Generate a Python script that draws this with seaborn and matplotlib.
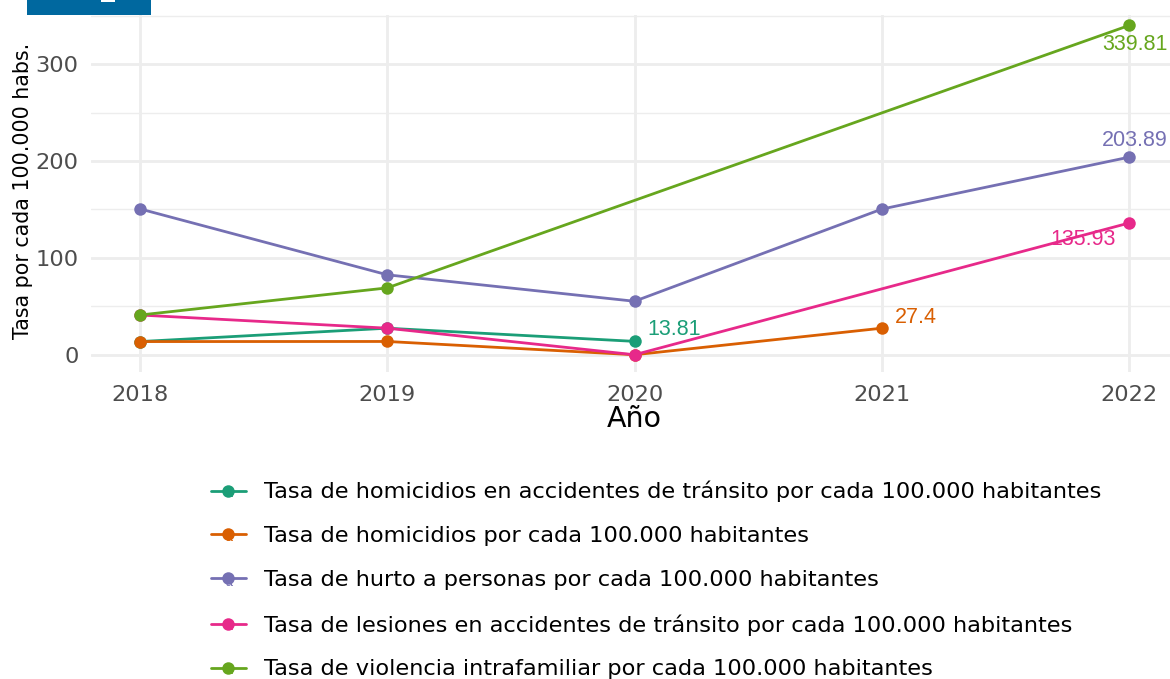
import matplotlib
matplotlib.use("Agg")
import matplotlib.pyplot as plt
from matplotlib.patches import Rectangle
import pandas as pd
import seaborn as sns

series_names = [
    "Tasa de homicidios en accidentes de tránsito por cada 100.000 habitantes",
    "Tasa de homicidios por cada 100.000 habitantes",
    "Tasa de hurto a personas por cada 100.000 habitantes",
    "Tasa de lesiones en accidentes de tránsito por cada 100.000 habitantes",
    "Tasa de violencia intrafamiliar por cada 100.000 habitantes",
]
years_transito = [2018, 2019, 2020]
vals_transito = [13.6, 27.4, 13.81]
years_homicidios = [2018, 2019, 2020, 2021]
vals_homicidios = [13.6, 13.7, 0, 27.4]
years_hurto = [2018, 2019, 2020, 2021, 2022]
vals_hurto = [150.5, 82.5, 55.2, 150.3, 203.89]
years_lesiones = [2018, 2019, 2020, 2022]
vals_lesiones = [41, 27.4, 0, 135.93]
years_violencia = [2018, 2019, 2022]
vals_violencia = [41, 69, 339.81]
colors = ["#1B9E77", "#D95F02", "#7570B3", "#E7298A", "#66A61E"]
year_ticks = [2018, 2019, 2020, 2021, 2022]
y_ticks = [0, 100, 200, 300]
y_minor = [50, 150, 250, 350]

frames = []
for name, xs, ys in zip(series_names,
                        [years_transito, years_homicidios, years_hurto, years_lesiones, years_violencia],
                        [vals_transito, vals_homicidios, vals_hurto, vals_lesiones, vals_violencia]):
    frames.append(pd.DataFrame({"Año": xs, "Tasa": ys, "Serie": name}))
df = pd.concat(frames, ignore_index=True)

sns.set_theme(style="white")
plt.rcParams["font.family"] = ["DejaVu Sans"]

W, H = 1170, 679
fig = plt.figure(figsize=(W / 100, H / 100), dpi=100)
left, right, top, bottom = 91, 1170, 15, 372
ax = fig.add_axes([left / W, 1 - bottom / H, (right - left) / W, (bottom - top) / H])

sns.lineplot(data=df, x="Año", y="Tasa", hue="Serie", hue_order=series_names,
             palette=colors, marker="o", markersize=9, markeredgewidth=0,
             linewidth=2.0, errorbar=None, sort=True, ax=ax, zorder=3)

ax.set_xlim(2018 - 49 / 247.2, 2022 + 41 / 247.2)
ax.set_ylim(-17.3 / 0.9717, 340.7 / 0.9717)
ax.set_xticks(year_ticks)
ax.set_yticks(y_ticks)
ax.set_yticks(y_minor, minor=True)
ax.grid(True, which="major", color="#EDEDED", linewidth=2.0)
ax.grid(True, which="minor", axis="y", color="#EDEDED", linewidth=1.0)
ax.set_axisbelow(True)
for s in ax.spines.values():
    s.set_visible(False)
ax.tick_params(which="both", length=0)
ax.tick_params(axis="both", labelsize=16.2, labelcolor="#4D4D4D")
ax.tick_params(axis="x", pad=9)
ax.tick_params(axis="y", pad=9)
ax.set_xlabel("")
ax.set_ylabel("")
fig.text(634 / W, 1 - 419 / H, "Año", ha="center", va="center", fontsize=20.5, color="black")
fig.text(23.5 / W, 1 - 191 / H, "Tasa por cada 100.000 habs.", rotation=90,
         ha="center", va="center", fontsize=14.8, color="black")

lab_font = dict(family="Liberation Sans", fontsize=15.5)
ax.text(2020 + 13 / 247.2, 13.81 + 12, "13.81", color=colors[0], ha="left", va="center", **lab_font)
ax.text(2021 + 13 / 247.2, 27.4 + 11, "27.4", color=colors[1], ha="left", va="center", **lab_font)
ax.text(2022 + 6 / 247.2, 203.89 + 17, "203.89", color=colors[2], ha="center", va="center", **lab_font)
ax.text(2022 - 13 / 247.2, 135.93 - 17.5, "135.93", color=colors[3], ha="right", va="center", **lab_font)
ax.text(2022 + 6 / 247.2, 339.81 - 19.5, "339.81", color=colors[4], ha="center", va="center", **lab_font)

handles, labels = ax.get_legend_handles_labels()
leg = ax.legend(handles, labels, loc="upper left", frameon=False, fontsize=16.2,
                bbox_to_anchor=(211 / W, 1 - 481 / H), bbox_transform=fig.transFigure,
                handlelength=1.55, handletextpad=0.8, labelspacing=1.06,
                borderaxespad=0, borderpad=0, labelcolor="black")

for i, c in enumerate(colors):
    fig.text(228.5 / W, 1 - (491 + 44.25 * i + 3) / H, "a", color=c, ha="center", va="center",
             family="Liberation Sans", fontsize=9, zorder=-1)

fig.add_artist(Rectangle((27 / W, 1 - 15 / H), 124 / W, 15 / H, transform=fig.transFigure,
                         facecolor="#00689F", edgecolor="none"))
fig.add_artist(Rectangle((101 / W, 1 - 2 / H), 14 / W, 2 / H, transform=fig.transFigure,
                         facecolor="white", edgecolor="none"))

fig.savefig("out.png", dpi=100)
